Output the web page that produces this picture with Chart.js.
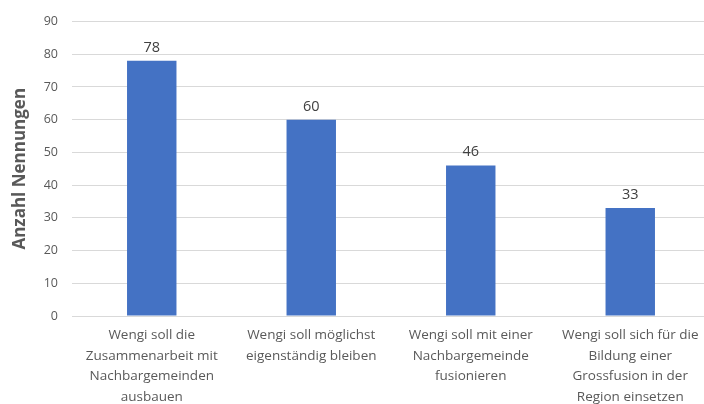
<!DOCTYPE html>
<html>
<head>
<meta charset="utf-8">
<script src="https://cdn.jsdelivr.net/npm/chart.js@4"></script>
<style>
  html, body { margin: 0; padding: 0; background: #fff; overflow: hidden; }
  #wrap { width: 710px; height: 404px; }
</style>
</head>
<body>
<div id="wrap"><canvas id="chart" width="710" height="404"></canvas></div>
<script>
const categories = [
  ["Wengi soll die", "Zusammenarbeit mit", "Nachbargemeinden", "ausbauen"],
  ["Wengi soll möglichst", "eigenständig bleiben"],
  ["Wengi soll mit einer", "Nachbargemeinde", "fusionieren"],
  ["Wengi soll sich für die", "Bildung einer", "Grossfusion in der", "Region einsetzen"]
];
const nennungen = [78, 60, 46, 33];
const yTicks = [0, 10, 20, 30, 40, 50, 60, 70, 80, 90];

const fontFamily = "'Open Sans', 'Liberation Sans', sans-serif";

// simple data labels above the bars
const barLabels = {
  id: "barLabels",
  afterDatasetsDraw(chart) {
    const ctx = chart.ctx;
    const meta = chart.getDatasetMeta(0);
    ctx.save();
    ctx.font = "14.5px " + fontFamily;
    ctx.fillStyle = "#404040";
    ctx.textAlign = "center";
    ctx.textBaseline = "bottom";
    meta.data.forEach((bar, i) => {
      ctx.fillText(nennungen[i], bar.x, bar.y - 6);
    });
    ctx.restore();
  }
};

new Chart(document.getElementById("chart").getContext("2d"), {
  type: "bar",
  data: {
    labels: categories,
    datasets: [{
      label: "Anzahl Nennungen",
      data: nennungen,
      backgroundColor: "#4472C4",
      categoryPercentage: 1,
      barPercentage: 0.31
    }]
  },
  options: {
    responsive: false,
    animation: false,
    layout: { padding: { top: 18, right: 0, bottom: 0, left: 0 } },
    plugins: {
      legend: { display: false },
      tooltip: { enabled: false }
    },
    scales: {
      x: {
        grid: { display: false, drawTicks: false },
        border: { display: false },
        ticks: {
          color: "#595959",
          font: { family: fontFamily, size: 13.5, lineHeight: 1.52 },
          padding: 9,
          maxRotation: 0,
          autoSkip: false
        },
        afterFit(scale) { scale.height = 88; }
      },
      y: {
        min: 0,
        max: 90,
        afterBuildTicks(scale) { scale.ticks = yTicks.map(v => ({ value: v })); },
        grid: { color: "#d9d9d9", drawTicks: false },
        border: { display: false },
        ticks: {
          color: "#595959",
          font: { family: fontFamily, size: 12.5 },
          padding: 14
        },
        title: {
          display: true,
          text: "Anzahl Nennungen",
          color: "#595959",
          font: { family: fontFamily, size: 17, weight: "bold" },
          padding: { top: 10, bottom: 0 }
        },
        afterFit(scale) { scale.width = 72; }
      }
    }
  },
  plugins: [barLabels]
});
</script>
</body>
</html>
